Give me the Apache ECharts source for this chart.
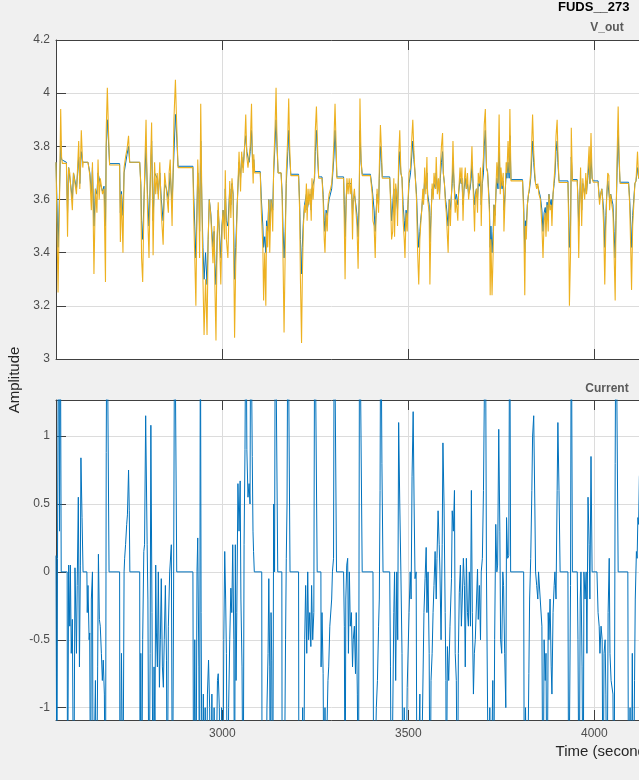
<!DOCTYPE html>
<html>
<head>
<meta charset="utf-8">
<script src="https://cdn.jsdelivr.net/npm/echarts@6/dist/echarts.min.js"></script>
<style>
html,body{margin:0;padding:0;background:#f0f0f0;overflow:hidden;width:639px;height:780px;}
#chart{width:1220px;height:780px;}
</style>
</head>
<body>
<div id="chart"></div>
<script>
// ---------------- data ----------------
const timeTicks = [3000, 3500, 4000, 4500, 5000, 5500];
const voltTicks = [3, 3.2, 3.4, 3.6, 3.8, 4, 4.2];
const currTicks = [-1, -0.5, 0, 0.5, 1];

// V_out, measured (blue) : [time s, volts]
const voltMeasured = [
[2553,3.74],[2558.5,3.42],[2562,3.60],[2565.6,3.82],[2568,3.75],[2581,3.74],[2584,3.55],[2587,3.72],[2597,3.60],[2600,3.70],[2608,3.64],[2614,3.76],[2617,3.66],[2621,3.78],[2625,3.74],[2639,3.74],[2644,3.70],[2648,3.62],[2651,3.72],[2655,3.50],[2659,3.64],[2663,3.62],[2666,3.70],[2672,3.66],[2678,3.63],[2682,3.65],[2686,3.50],[2688,3.80],[2691,3.90],[2694,3.82],[2697,3.735],[2724,3.735],
[2726,3.55],[2729,3.63],[2733,3.54],[2736,3.70],[2744,3.77],[2748,3.80],[2751,3.74],[2778,3.74],[2781,3.66],[2783,3.52],[2786,3.45],[2790,3.62],[2795,3.80],[2799,3.62],[2803,3.50],[2807,3.70],[2810,3.82],[2814,3.52],[2818,3.70],[2825,3.68],[2828,3.62],[2832,3.70],[2836,3.60],[2841,3.52],[2845,3.66],[2850,3.64],[2855,3.60],[2860,3.70],[2865,3.58],[2868,3.70],[2874,3.92],[2877,3.85],[2881,3.725],[2921,3.725],
[2923,3.62],[2926,3.50],[2929,3.38],[2931,3.50],[2934,3.70],[2937,3.62],[2939,3.48],[2942,3.82],[2945,3.60],[2948,3.42],[2951,3.30],[2955,3.40],[2959,3.28],[2962,3.45],[2965,3.60],[2969,3.55],[2972,3.48],[2975,3.42],[2978,3.48],[2980,3.36],[2983,3.28],[2986,3.44],[2989,3.56],[2993,3.46],[2996,3.38],[2999,3.50],[3002,3.56],[3006,3.50],[3008,3.64],[3011,3.52],[3015,3.50],[3020,3.64],[3023,3.58],[3026,3.66],[3029,3.62],[3033,3.30],[3036,3.42],
[3040,3.58],[3045,3.74],[3049,3.68],[3052,3.76],[3056,3.72],[3060,3.80],[3063,3.84],[3066,3.78],[3069,3.76],[3072,3.74],[3075,3.78],[3078.5,3.86],[3081,3.76],[3083,3.72],[3084.5,3.75],[3087,3.705],[3102,3.705],
[3105,3.60],[3109,3.50],[3111,3.42],[3114,3.46],[3117,3.40],[3119,3.52],[3122,3.48],[3125,3.60],[3127.5,3.50],[3131,3.60],[3135.5,3.56],[3138,3.70],[3142,3.82],[3144.5,3.90],[3147,3.80],[3150,3.70],[3158,3.70],[3161,3.62],[3163,3.50],[3166,3.38],[3169,3.48],[3172,3.66],[3176,3.78],[3178.5,3.86],[3181,3.76],[3184,3.695],[3205,3.695],
[3208,3.58],[3210,3.45],[3213,3.32],[3215,3.42],[3218,3.52],[3221,3.58],[3226,3.62],[3228,3.56],[3233,3.60],[3236,3.62],[3239,3.56],[3241,3.64],[3248,3.68],[3250,3.78],[3253,3.86],[3256,3.76],[3259,3.685],[3268,3.685],
[3271,3.62],[3274,3.52],[3276,3.48],[3279,3.56],[3282,3.54],[3287,3.60],[3294,3.64],[3297,3.70],[3300,3.76],[3303,3.86],[3306,3.76],[3308,3.685],[3326,3.685],
[3328,3.58],[3330,3.46],[3333,3.60],[3335,3.66],[3341,3.66],[3347,3.66],[3350,3.54],[3352,3.60],[3355,3.62],[3359,3.58],[3362,3.54],[3365,3.46],[3368,3.60],[3370,3.86],[3373,3.74],[3376,3.695],[3398,3.695],
[3403,3.64],[3408,3.56],[3411,3.48],[3413,3.54],[3416,3.62],[3420,3.58],[3422,3.68],[3425,3.80],[3428,3.74],[3430,3.685],[3450,3.685],
[3452,3.62],[3455,3.52],[3458,3.52],[3461,3.64],[3463,3.54],[3466,3.64],[3471,3.56],[3474,3.70],[3477,3.78],[3480,3.70],[3483,3.68],[3486,3.58],[3489,3.52],[3491,3.48],[3494,3.56],[3497,3.52],[3499,3.58],[3502,3.66],[3506,3.70],[3509,3.76],[3512,3.82],[3515,3.75],[3518,3.70],[3522,3.62],[3525,3.50],[3528,3.42],[3531,3.48],[3533,3.52],[3536,3.56],[3539,3.62],[3541,3.60],[3544,3.68],[3547,3.64],[3550,3.70],[3552,3.62],[3556,3.58],[3558,3.44],[3561,3.54],[3564,3.64],[3567,3.62],[3569,3.66],[3573,3.64],[3575,3.70],[3578,3.64],[3581,3.66],[3584,3.62],[3586,3.68],[3589,3.74],[3592,3.78],[3594,3.70],[3597,3.66],[3600,3.60],
[3602,3.58],[3607,3.50],[3610,3.60],[3613,3.56],[3618,3.66],[3620,3.74],[3623,3.66],[3626,3.60],[3629,3.62],[3633,3.58],[3635,3.62],[3639,3.68],[3642,3.66],[3644,3.68],[3647,3.58],[3650,3.64],[3653,3.68],[3656,3.64],[3659,3.66],[3662,3.62],[3666,3.64],[3669,3.68],[3671,3.74],[3674,3.66],[3678,3.58],[3680,3.62],[3683,3.64],[3686,3.60],[3688,3.66],[3691,3.65],[3694,3.68],[3696,3.58],[3699,3.66],[3702,3.70],[3704,3.80],[3707,3.86],[3710,3.72],[3713,3.705],[3716,3.70],
[3718,3.58],[3720,3.42],[3722,3.50],[3725,3.40],[3728,3.48],[3730,3.58],[3733,3.54],[3736,3.64],[3738,3.68],[3741,3.64],[3744,3.80],[3747,3.64],[3749,3.68],[3752,3.64],[3755,3.67],[3757,3.56],[3760,3.62],[3763,3.70],[3765,3.68],[3768,3.74],[3771,3.68],[3773,3.84],[3776,3.675],[3807,3.675],
[3810,3.58],[3813,3.40],[3815,3.52],[3817,3.50],[3820,3.58],[3823,3.62],[3825,3.63],[3829,3.68],[3832,3.76],[3834,3.82],[3837,3.74],[3840,3.68],[3842,3.66],[3848,3.65],[3855,3.61],[3859,3.56],[3862,3.48],[3865,3.55],[3868,3.57],[3870,3.52],[3873,3.59],[3876,3.54],[3878,3.62],[3881,3.58],[3884,3.60],[3886,3.56],[3889,3.62],[3892,3.66],[3894,3.69],[3897,3.78],[3900,3.82],[3902,3.74],[3905,3.67],[3929,3.67],
[3931,3.56],[3933,3.42],[3936,3.50],[3938,3.76],[3941,3.675],[3954,3.675],
[3956,3.60],[3958,3.50],[3961,3.62],[3963,3.68],[3966,3.56],[3969,3.66],[3974,3.62],[3977,3.67],[3979,3.63],[3983,3.69],[3986,3.74],[3988,3.66],[3991,3.76],[3994,3.68],[3997,3.67],[4010,3.67],
[4012,3.63],[4014,3.60],[4017,3.62],[4020,3.64],[4022,3.61],[4025,3.56],[4028,3.42],[4031,3.54],[4033,3.61],[4036,3.67],[4039,3.67],[4041,3.60],[4044,3.62],[4047,3.60],[4050,3.58],[4053,3.48],[4056,3.38],[4058,3.52],[4061,3.70],[4064,3.86],[4066,3.76],[4069,3.665],[4092,3.665],
[4095,3.60],[4098,3.50],[4100,3.42],[4103,3.54],[4106,3.60],[4109,3.66],[4112,3.67],[4116,3.72],[4119,3.68],[4128,3.69]
];

// V_out, simulated (yellow) : [time s, volts]
const voltSimulated = [
[2553,3.74],[2558.5,3.25],[2562,3.55],[2565.6,3.94],[2568,3.76],[2570,3.736],[2581,3.736],[2584,3.46],[2587,3.72],[2590,3.70],[2597,3.56],[2600,3.70],[2604,3.70],[2608,3.62],[2614,3.82],[2617,3.64],[2621,3.86],[2625,3.72],[2626,3.74],[2639,3.74],
[2644,3.69],[2648,3.56],[2651,3.74],[2655,3.32],[2659,3.64],[2663,3.55],[2666,3.75],[2669,3.60],[2672,3.68],[2678,3.62],[2682,3.64],[2686,3.29],[2688,3.86],[2691,4.02],[2694,3.86],[2697,3.73],[2724,3.73],
[2726,3.44],[2729,3.62],[2733,3.40],[2736,3.72],[2740,3.76],[2744,3.79],[2748,3.84],[2751,3.74],[2778,3.74],
[2781,3.65],[2783,3.38],[2786,3.29],[2790,3.62],[2792,3.74],[2795,3.90],[2799,3.56],[2803,3.38],[2807,3.72],[2810,3.89],[2814,3.39],[2818,3.74],[2821,3.62],[2825,3.70],[2828,3.60],[2832,3.74],[2836,3.55],[2841,3.43],[2845,3.70],[2850,3.63],[2855,3.55],[2857,3.70],[2860,3.75],[2865,3.50],[2868,3.73],[2870,3.90],[2874,4.05],[2877,3.90],[2881,3.72],[2921,3.72],
[2923,3.55],[2926,3.38],[2929,3.20],[2931,3.45],[2934,3.75],[2937,3.62],[2939,3.38],[2942,3.96],[2945,3.60],[2948,3.30],[2951,3.09],[2955,3.30],[2959,3.09],[2962,3.45],[2965,3.60],[2969,3.54],[2972,3.45],[2975,3.36],[2978,3.50],[2980,3.28],[2983,3.07],[2986,3.45],[2989,3.59],[2993,3.42],[2996,3.28],[2999,3.48],[3002,3.56],[3006,3.45],[3008,3.71],[3011,3.45],[3015,3.38],[3020,3.67],[3023,3.53],[3026,3.68],[3029,3.62],[3033,3.08],[3036,3.35],
[3040,3.57],[3045,3.78],[3049,3.63],[3052,3.78],[3056,3.70],[3060,3.80],[3063,3.92],[3066,3.76],[3069,3.72],[3072,3.72],[3075,3.80],[3078.5,3.96],[3081,3.74],[3083,3.66],[3084.5,3.77],[3087,3.70],[3102,3.70],
[3105,3.55],[3109,3.42],[3111,3.22],[3114,3.40],[3117,3.20],[3119,3.50],[3122,3.42],[3125,3.60],[3127.5,3.40],[3131,3.60],[3134,3.55],[3135.5,3.48],[3138,3.72],[3142,3.88],[3144.5,4.02],[3147,3.82],[3150,3.70],[3158,3.70],
[3161,3.60],[3163,3.40],[3166,3.10],[3169,3.40],[3172,3.70],[3176,3.84],[3178.5,3.98],[3181,3.80],[3184,3.69],[3205,3.69],
[3208,3.55],[3210,3.30],[3213,3.06],[3215,3.30],[3218,3.50],[3221,3.58],[3223,3.55],[3226,3.66],[3228,3.52],[3230.5,3.64],[3233,3.58],[3236,3.64],[3239,3.52],[3241,3.68],[3244,3.60],[3248,3.70],[3250,3.86],[3253,3.95],[3256,3.80],[3259,3.68],[3268,3.68],
[3271,3.60],[3274,3.45],[3276,3.40],[3279,3.55],[3282,3.48],[3284,3.58],[3287,3.62],[3291,3.64],[3294,3.66],[3297,3.72],[3300,3.82],[3303,3.96],[3306,3.80],[3308,3.68],[3326,3.68],
[3328,3.50],[3330,3.30],[3333,3.60],[3335,3.68],[3338,3.62],[3341,3.68],[3344,3.62],[3347,3.68],[3350,3.45],[3352,3.60],[3355,3.64],[3359,3.56],[3362,3.50],[3365,3.34],[3368,3.60],[3370,3.98],[3373,3.75],[3376,3.69],[3398,3.69],
[3403,3.62],[3405,3.52],[3408,3.50],[3411,3.38],[3413,3.52],[3416,3.64],[3420,3.55],[3422,3.72],[3425,3.88],[3428,3.78],[3430,3.68],[3450,3.68],
[3452,3.60],[3455,3.45],[3458,3.48],[3461,3.68],[3463,3.46],[3466,3.66],[3469,3.62],[3471,3.50],[3474,3.76],[3477,3.86],[3480,3.70],[3483,3.68],[3486,3.52],[3489,3.45],[3491,3.38],[3494,3.55],[3497,3.48],[3499,3.58],[3502,3.70],[3506,3.72],[3509,3.82],[3512,3.90],[3515,3.78],[3518,3.70],[3522,3.60],[3525,3.40],[3528,3.28],[3531,3.45],[3533,3.50],[3536,3.56],[3539,3.64],[3541,3.58],[3544,3.72],[3547,3.62],[3550,3.76],[3552,3.60],[3556,3.55],[3558,3.28],[3561,3.52],[3564,3.66],[3567,3.60],[3569,3.70],[3573,3.64],[3575,3.76],[3578,3.62],[3581,3.68],[3584,3.60],[3586,3.72],[3589,3.80],[3592,3.85],[3594,3.70],[3597,3.66],[3600,3.58],
[3602,3.55],[3607,3.40],[3610,3.60],[3613,3.50],[3618,3.70],[3620,3.82],[3623,3.66],[3626,3.55],[3629,3.60],[3633,3.52],[3635,3.62],[3639,3.72],[3642,3.66],[3644,3.72],[3647,3.52],[3650,3.66],[3653,3.72],[3656,3.64],[3659,3.70],[3662,3.60],[3666,3.66],[3669,3.72],[3671,3.80],[3674,3.65],[3678,3.48],[3680,3.60],[3683,3.64],[3686,3.55],[3688,3.70],[3691,3.66],[3694,3.72],[3696,3.50],[3699,3.70],[3702,3.76],[3704,3.88],[3707,3.94],[3710,3.72],[3713,3.70],[3716,3.70],
[3718,3.55],[3720,3.24],[3722,3.45],[3725,3.24],[3728,3.40],[3730,3.58],[3733,3.50],[3736,3.66],[3738,3.74],[3741,3.66],[3744,3.92],[3747,3.62],[3749,3.72],[3752,3.65],[3755,3.70],[3757,3.48],[3760,3.60],[3763,3.74],[3765,3.70],[3768,3.82],[3771,3.70],[3773,3.94],[3776,3.67],[3807,3.67],
[3810,3.55],[3813,3.24],[3815,3.50],[3817,3.45],[3820,3.58],[3823,3.62],[3825,3.64],[3829,3.70],[3832,3.83],[3834,3.92],[3837,3.78],[3840,3.70],[3842,3.66],[3845,3.64],[3848,3.66],[3851,3.62],[3855,3.60],[3859,3.50],[3862,3.38],[3865,3.52],[3868,3.55],[3870,3.46],[3873,3.58],[3876,3.48],[3878,3.62],[3881,3.56],[3884,3.58],[3886,3.50],[3889,3.62],[3892,3.68],[3894,3.72],[3897,3.84],[3900,3.90],[3902,3.78],[3905,3.664],[3929,3.664],
[3931,3.50],[3933,3.20],[3936,3.40],[3938,3.87],[3941,3.67],[3954,3.67],
[3956,3.58],[3958,3.38],[3961,3.62],[3963,3.72],[3966,3.50],[3969,3.68],[3971,3.64],[3974,3.60],[3977,3.70],[3979,3.62],[3983,3.72],[3986,3.80],[3988,3.66],[3991,3.85],[3994,3.68],[3997,3.665],[4010,3.665],
[4012,3.62],[4014,3.58],[4017,3.62],[4020,3.64],[4022,3.60],[4025,3.50],[4028,3.28],[4031,3.50],[4033,3.60],[4036,3.70],[4039,3.69],[4041,3.56],[4044,3.62],[4047,3.58],[4050,3.55],[4053,3.40],[4056,3.22],[4058,3.50],[4061,3.75],[4064,3.95],[4066,3.80],[4069,3.66],[4092,3.66],
[4095,3.58],[4098,3.40],[4100,3.26],[4103,3.50],[4106,3.58],[4109,3.66],[4112,3.67],[4116,3.78],[4119,3.68],[4128,3.70]
];

// Current : [time s, amps] (values beyond the axis limits are clipped by the axes)
const current = [
[2553,0.12],[2555.5,-2.0],[2557,0.1],[2560,2.2],[2562.5,0.3],[2564.5,2.2],[2567,0.0],[2583,0.0],
[2584,-2.0],[2587,0.05],[2590,-0.4],[2591.6,0.05],[2594,-0.6],[2597,-0.35],[2600.6,-2.0],[2604,0.03],[2608,-0.6],[2610,-0.1],[2613,0.55],[2616,-0.7],[2618.5,0.05],[2620,0.84],[2623,0.4],[2625.7,0.0],[2636,0.0],
[2637,-0.3],[2639,-0.1],[2642,-0.5],[2643.6,-0.45],[2646,-2.0],[2648,-0.2],[2651,0.0],[2653,-2.0],[2655,-1.5],[2659,-0.8],[2661.5,-2.0],[2665,-0.7],[2667,0.13],[2669.6,-0.35],[2672,-0.4],[2675,-0.6],[2677.6,-0.8],[2680,-0.65],[2683,-0.9],[2686,-2.0],[2688,0.88],[2690,2.2],[2693,2.2],[2695.6,0.0],[2724,0.0],
[2725,-2.0],[2729,-0.6],[2733,-1.8],[2736,0.0],[2737.5,0.1],[2740,0.2],[2743,0.35],[2745,0.42],[2748,0.75],[2750,0.45],[2751.5,0.0],[2778,0.0],
[2779,-2.0],[2781,-0.6],[2783,-2.0],[2786,-0.5],[2789,0.15],[2791,0.2],[2794,1.15],[2798,0.2],[2800,-0.2],[2803,-2.0],[2806,-0.6],[2808,1.08],[2811,-0.3],[2814,-2.0],[2816.5,-0.7],[2819,-1.2],[2821,0.05],[2823,-0.45],[2825.5,-0.7],[2828,0.0],[2831,-0.85],[2833.5,-0.5],[2836,-0.05],[2839,-0.7],[2841.6,-0.85],[2844,-0.5],[2847,-0.1],[2850,-0.65],[2852,-2.0],[2855,-0.4],[2858.6,0.0],[2863,0.2],[2866,-2.0],[2869,-0.2],[2872,2.2],[2875,2.2],[2877.5,0.0],[2921,0.0],
[2923,-2.0],[2926,-0.5],[2929,-2.0],[2932,0.0],[2934,0.25],[2937,-0.7],[2939,-2.0],[2941,2.2],[2943,-0.3],[2946,-2.0],[2949,-0.9],[2951,-2.0],[2954,-1.0],[2957,-2.0],[2960,-0.9],[2963,-0.65],[2966,-1.0],[2969,-2.0],[2972,-0.9],[2975,-2.0],[2978,-1.0],[2981,-2.0],[2984,-2.0],[2987,-0.8],[2989,-0.75],[2992,-1.0],[2995,-2.0],[2998,-1.0],[3001,-2.0],[3004,-0.5],
[3006.5,0.15],[3009,-0.2],[3011,-0.6],[3014,-2.0],[3017,-1.0],[3020,-0.5],[3023,-0.12],[3025.5,-0.3],[3028,0.2],[3031,-0.5],[3033,-2.0],[3035,0.2],[3037,-0.8],[3039,-0.3],[3042,0.65],[3045,0.3],[3048,0.67],[3050,-0.2],[3053,-0.7],[3056,-2.0],[3058.5,0.2],[3061,0.9],[3063.5,2.2],[3066,0.9],[3069,0.55],[3072,0.65],[3074.5,0.5],[3076.5,2.2],[3079,2.2],[3080.5,0.85],[3082.5,0.3],[3084,0.15],[3086,0.0],[3106,0.0],
[3107,-2.0],[3111,-2.0],[3114,-1.2],[3117,-2.0],[3120,-1.0],[3123,-0.6],[3125,-0.05],[3127.5,-0.7],[3129,-2.0],[3131,-0.3],[3133,-0.65],[3135.5,-2.0],[3138,0.5],[3140.5,0.0],[3142.5,2.2],[3145,2.2],[3149,0.0],[3160,0.0],
[3161,-2.0],[3164,-1.5],[3166,-2.0],[3170,-0.5],[3172,0.1],[3174,0.5],[3176.5,2.2],[3179.5,2.2],[3182,0.0],[3205,0.0],
[3206,-2.0],[3210,-2.0],[3213,-2.0],[3216,-1.0],[3218,-2.0],[3221.5,-0.5],[3224,-0.1],[3227,-0.6],[3229.6,0.0],[3232,-0.5],[3235,-0.3],[3238,-0.55],[3240,-0.1],[3243,-0.5],[3246,-0.3],[3248.5,2.2],[3252,2.2],[3255,0.0],[3265,0.0],
[3265.5,-0.7],[3268,-0.3],[3271,-0.75],[3273.5,-2.0],[3276,-1.0],[3278,-2.0],[3281,-1.2],[3284,-0.8],[3286,-0.7],[3289,-0.4],[3291,-0.4],[3294,-0.2],[3296,0.0],[3299,0.1],[3301,2.2],[3304,2.2],[3307,0.0],[3326,0.0],
[3328,-0.4],[3330,-2.0],[3332,-0.2],[3334.5,0.05],[3337,0.1],[3339,-0.6],[3341.6,0.0],[3344,-0.4],[3347,-0.3],[3350,-0.7],[3352,-0.5],[3355,-0.4],[3358,-0.75],[3360,-0.3],[3363,-0.9],[3366,-2.0],[3369,2.2],[3373,2.2],[3376,0.0],[3405,0.0],
[3407,-2.0],[3411,-2.0],[3414,-1.0],[3417,-0.8],[3420,-0.4],[3422,-0.2],[3424,0.6],[3426,2.2],[3429,0.8],[3432,0.0],[3450,0.0],
[3452,-0.7],[3454.5,-2.0],[3458,-2.0],[3461,-0.3],[3463,0.0],[3466,-0.8],[3469,0.0],[3471.5,-0.5],[3474,1.1],[3477,0.5],[3480,0.0],[3483,-0.6],[3486,-2.0],[3489,-1.0],[3492,-2.0],[3497,-0.85],[3502,-0.3],[3505,0.0],[3507.5,-0.2],[3510,0.7],[3513,1.18],[3515.5,0.5],[3518,-0.05],[3521,0.0],[3523.5,-2.0],[3528,-2.0],[3531,-0.9],[3533,-2.0],[3537,-2.0],[3542,-0.3],[3545,-0.05],[3548,0.18],[3550,-0.3],[3553,0.0],[3556,-0.6],[3558.5,-2.0],[3561,-0.8],[3564,-0.6],[3566.5,-0.3],[3569,-0.1],[3572,0.15],[3575,-0.2],[3577,0.1],[3580,0.45],[3583,0.2],[3585,0.0],[3588,-0.5],[3591,0.2],[3593,0.95],[3596,0.5],[3599,-0.3],[3601,-0.8],
[3602,-2.0],[3605,-0.55],[3608.5,-0.8],[3612,-0.4],[3616,-0.05],[3618,0.45],[3621,0.3],[3624,0.6],[3626,-0.6],[3629,-0.8],[3632,-2.0],[3634.5,-0.6],[3637,-0.15],[3640,0.05],[3642.6,-0.4],[3645,-0.2],[3648,0.1],[3650.7,-0.1],[3653,-0.7],[3656,0.1],[3659,-0.3],[3661.4,-0.4],[3664,0.0],[3667,-0.4],[3669.5,0.6],[3672,-0.3],[3675,-0.9],[3677.5,-0.6],[3680,-0.5],[3683,-0.5],[3686,0.02],[3688,-0.35],[3691,-0.1],[3694,-0.5],[3696,0.0],[3699,0.1],[3702,0.6],[3704,1.2],[3707,2.2],[3710,0.0],[3715,0.0],
[3716,-2.0],[3719,-1.0],[3721,-2.0],[3724,-2.0],[3727,-0.8],[3729,-2.0],[3732,-0.5],[3735,0.35],[3738,0.0],[3740,0.05],[3743,1.05],[3746,0.3],[3748,-0.5],[3751,-0.6],[3754,0.0],[3756,-0.1],[3759,-0.6],[3762,-1.0],[3764,0.4],[3767,0.1],[3770,0.12],[3772.5,2.2],[3775,0.0],[3810,0.0],
[3812,-2.0],[3815,-1.0],[3819,-2.0],[3824,-0.75],[3826,-0.2],[3829,0.1],[3832,0.6],[3834,1.0],[3837,1.15],[3840,0.5],[3842,0.0],[3845,-0.1],[3848,-0.2],[3850,0.0],[3853,0.0],[3859,-0.4],[3862,-2.0],[3865,-0.5],[3868,-0.8],[3870,-0.6],[3873,-2.0],[3876,-0.3],[3878,-0.5],[3881,-0.2],[3884,-0.7],[3886,-0.9],[3889,-0.3],[3892,-0.1],[3894,0.0],[3897,-0.2],[3900,0.6],[3902,1.1],[3905,0.6],[3908,0.0],[3929,0.0],
[3931,-2.0],[3936,-0.1],[3938,2.2],[3941,0.0],[3954,0.0],
[3956,-0.5],[3959,-2.0],[3962,-0.2],[3964,0.0],[3967,-0.7],[3970,-2.0],[3972,0.0],[3975,-0.2],[3978,0.0],[3980,-0.6],[3983,0.55],[3986,0.2],[3988,-0.2],[3991,0.85],[3994,0.0],[4007,0.0],
[4010,-0.3],[4013,-0.4],[4015,-0.6],[4018,-0.4],[4021,-0.5],[4023.4,-2.0],[4026,-0.6],[4029,-0.5],[4031,-0.9],[4034,-2.0],[4037,-0.3],[4040,0.1],[4042,-0.6],[4045,-0.8],[4048,-0.8],[4050,-0.9],[4053,-2.0],[4056,0.8],[4058,2.2],[4061,2.2],[4064,0.0],[4090,0.0],
[4092,-2.0],[4096,-1.0],[4099,-2.0],[4102,-0.6],[4105,-2.0],[4108,-0.8],[4110,-0.2],[4113,0.15],[4115,0.1],[4117,0.4],[4119,0.35],[4121,0.7],[4124,0.8]
];

const timeRange = [2553, 5515];
const voltRange = [3, 4.2];
const currRange = [-1.091, 1.266];

// ---------------- chart ----------------
const FONT = '"Liberation Sans", Arial, Helvetica, sans-serif';
const AXIS_COLOR = '#404040';
const LABEL_COLOR = '#4d4d4d';
const GRID_COLOR = '#dcdcdc';

function inList(list, v) {
  return list.some(t => Math.abs(t - v) < 1e-6);
}
function xAxisDef(grid, pos, labels, split) {
  return {
    type: 'value', gridIndex: grid, position: pos,
    min: timeRange[0], max: timeRange[1], minInterval: 500, maxInterval: 500,
    axisLine: { show: true, onZero: false, lineStyle: { color: AXIS_COLOR, width: 1 } },
    axisTick: { show: true, inside: true, length: 10, customValues: timeTicks, lineStyle: { color: AXIS_COLOR } },
    axisLabel: { show: labels, customValues: timeTicks, showMinLabel: true, showMaxLabel: true, hideOverlap: false, margin: 8,
      color: LABEL_COLOR, fontSize: 12, fontFamily: FONT,
      formatter: v => inList(timeTicks, v) ? String(v) : '' },
    splitLine: { show: split, lineStyle: { color: GRID_COLOR, width: 1 } }
  };
}
function yAxisDef(grid, range, ticks, step) {
  return {
    type: 'value', gridIndex: grid, position: 'left',
    min: range[0], max: range[1], minInterval: step, maxInterval: step,
    axisLine: { show: true, onZero: false, lineStyle: { color: AXIS_COLOR, width: 1 } },
    axisTick: { show: true, inside: true, length: 10, customValues: ticks, lineStyle: { color: AXIS_COLOR } },
    axisLabel: { show: true, customValues: ticks, showMinLabel: true, showMaxLabel: true, hideOverlap: false, margin: 6,
      color: LABEL_COLOR, fontSize: 12, fontFamily: FONT,
      formatter: v => inList(ticks, v) ? String(+v.toFixed(2)) : '' },
    splitLine: { show: true, lineStyle: { color: GRID_COLOR, width: 1 } }
  };
}

const chart = echarts.init(document.getElementById('chart'), null, { renderer: 'canvas' });
chart.setOption({
  animation: false,
  backgroundColor: '#f0f0f0',
  grid: [
    { left: 56, top: 40, width: 1102, height: 319, show: true, backgroundColor: '#ffffff', borderWidth: 0, containLabel: false },
    { left: 56, top: 400, width: 1102, height: 320, show: true, backgroundColor: '#ffffff', borderWidth: 0, containLabel: false }
  ],
  xAxis: [
    xAxisDef(0, 'bottom', false, true),
    xAxisDef(0, 'top', false, false),
    xAxisDef(1, 'bottom', true, true),
    xAxisDef(1, 'top', false, false)
  ],
  yAxis: [
    yAxisDef(0, voltRange, voltTicks, 0.2),
    yAxisDef(1, currRange, currTicks, 0.5)
  ],
  series: [
    { type: 'line', name: 'V_out measured', xAxisIndex: 0, yAxisIndex: 0, data: voltMeasured,
      showSymbol: false, clip: true, lineStyle: { color: '#0072BD', width: 1 }, itemStyle: { color: '#0072BD' } },
    { type: 'line', name: 'V_out simulated', xAxisIndex: 0, yAxisIndex: 0, data: voltSimulated,
      showSymbol: false, clip: true, lineStyle: { color: '#EDB120', width: 1.1 }, itemStyle: { color: '#EDB120' } },
    { type: 'line', name: 'Current', xAxisIndex: 2, yAxisIndex: 1, data: current,
      showSymbol: false, clip: true, lineStyle: { color: '#0072BD', width: 1 }, itemStyle: { color: '#0072BD' } }
  ],
  graphic: [
    { type: 'text', x: 558, y: 7, style: { text: 'FUDS__273', align: 'left', verticalAlign: 'middle', textAlign: 'left', textVerticalAlign: 'middle', font: 'bold 13px ' + FONT, fill: '#000000' } },
    { type: 'text', x: 607, y: 28, style: { text: 'V_out', align: 'center', verticalAlign: 'middle', textAlign: 'center', textVerticalAlign: 'middle', font: 'bold 12px ' + FONT, fill: '#5a5a5a' } },
    { type: 'text', x: 607, y: 389, style: { text: 'Current', align: 'center', verticalAlign: 'middle', textAlign: 'center', textVerticalAlign: 'middle', font: 'bold 12px ' + FONT, fill: '#5a5a5a' } },
    { type: 'text', x: 15, y: 380, rotation: Math.PI / 2, style: { text: 'Amplitude', align: 'center', verticalAlign: 'middle', textAlign: 'center', textVerticalAlign: 'middle', font: '15px ' + FONT, fill: '#262626' } },
    { type: 'text', x: 607, y: 752, style: { text: 'Time (seconds)', align: 'center', verticalAlign: 'middle', textAlign: 'center', textVerticalAlign: 'middle', font: '15px ' + FONT, fill: '#262626' } }
  ]
});
</script>
</body>
</html>
